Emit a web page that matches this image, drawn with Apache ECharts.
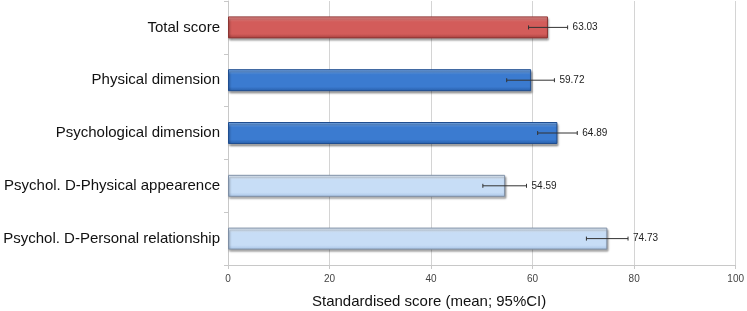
<!DOCTYPE html>
<html><head><meta charset="utf-8">
<script src="https://cdn.jsdelivr.net/npm/echarts@6/dist/echarts.min.js"></script>
<style>html,body{margin:0;padding:0;background:#fff}#c{width:747px;height:311px}</style>
</head><body><div id="c"></div>
<script>
const categories = ['Total score','Physical dimension','Psychological dimension','Psychol. D-Physical appearence','Psychol. D-Personal relationship'];
const means = [63.03, 59.72, 64.89, 54.59, 74.73];
const ciLow = [59.2, 54.9, 61.0, 50.2, 70.6];
const ciHigh = [66.9, 64.3, 68.8, 58.8, 78.8];
const xTicks = [0, 20, 40, 60, 80, 100];
const axisTitle = 'Standardised score (mean; 95%CI)';

const palettes = [
  {top:'#f09a98', mid:'#d35c5a', bot:'#a33e3c', border:'#8c3533'},
  {top:'#7fb0ec', mid:'#3b7bd0', bot:'#275da8', border:'#1f4d8f'},
  {top:'#7fb0ec', mid:'#3b7bd0', bot:'#275da8', border:'#1f4d8f'},
  {top:'#eaf3fd', mid:'#c7ddf6', bot:'#a9c4e6', border:'#7f8fa5'},
  {top:'#eaf3fd', mid:'#c7ddf6', bot:'#a9c4e6', border:'#7f8fa5'}
];
function grad(p){
  return new echarts.graphic.LinearGradient(0,0,0,1,[
    {offset:0,color:p.top},{offset:0.25,color:p.mid},{offset:0.8,color:p.mid},{offset:1,color:p.bot}
  ]);
}
const barData = means.map((v,i)=>({value:v, itemStyle:{color:grad(palettes[i]), borderColor:palettes[i].border, borderWidth:1, shadowColor:'rgba(0,0,0,0.35)', shadowOffsetX:1, shadowOffsetY:2, shadowBlur:2}}));
const errData = categories.map((c,i)=>[ciLow[i], ciHigh[i], i, means[i]]);

const chart = echarts.init(document.getElementById('c'));
chart.setOption({
  animation:false,
  grid:{left:228, right:9, top:1, bottom:46},
  xAxis:{type:'value', min:xTicks[0], max:xTicks[xTicks.length-1], interval:20,
    axisLine:{show:true, lineStyle:{color:'#c8c8c8'}},
    axisTick:{show:true, length:4, lineStyle:{color:'#c8c8c8'}},
    splitLine:{show:true, lineStyle:{color:'#d4d4d4', width:1}},
    axisLabel:{color:'#444', fontSize:10, fontFamily:'Liberation Sans', margin:9}
  },
  yAxis:{type:'category', data:categories, inverse:true,
    axisLine:{show:true, lineStyle:{color:'#c8c8c8'}},
    axisTick:{show:true, length:4, lineStyle:{color:'#c8c8c8'}},
    axisLabel:{color:'#111', fontSize:15, fontFamily:'Liberation Sans', margin:8}
  },
  graphic:[{type:'text', left:312, top:294, style:{text:axisTitle, fill:'#111', fontSize:15, fontFamily:'Liberation Sans'}}],
  series:[
    {type:'bar', data:barData, barWidth:22, z:2},
    {type:'custom', z:3, data:errData,
      renderItem:function(params, api){
        const lo = api.coord([api.value(0), api.value(2)]);
        const hi = api.coord([api.value(1), api.value(2)]);
        const y = lo[1];
        const c = '#333';
        const label = api.value(3).toFixed(2);
        return {type:'group', children:[
          {type:'line', shape:{x1:lo[0], y1:y, x2:hi[0], y2:y}, style:{stroke:c, lineWidth:1}},
          {type:'line', shape:{x1:lo[0], y1:y-2, x2:lo[0], y2:y+2}, style:{stroke:c, lineWidth:1}},
          {type:'line', shape:{x1:hi[0], y1:y-2, x2:hi[0], y2:y+2}, style:{stroke:c, lineWidth:1}},
          {type:'text', style:{x:hi[0]+5, y:y, text:label, fill:'#222', fontSize:10, fontFamily:'Liberation Sans', verticalAlign:'middle', align:'left'}}
        ]};
      }
    }
  ]
});
</script></body></html>
